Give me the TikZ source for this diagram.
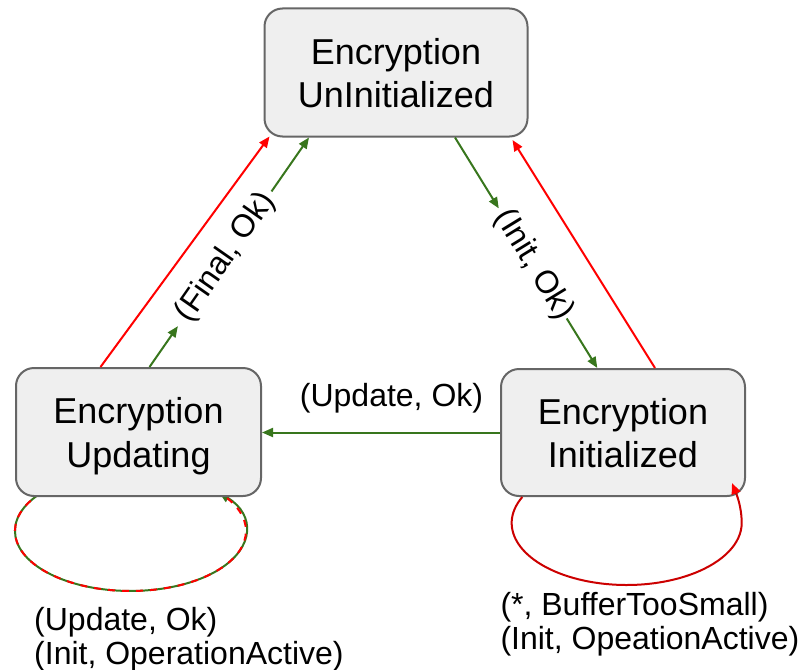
\documentclass[tikz,border=0pt]{standalone}
\usepackage{fontspec}
\setmainfont{Liberation Sans}
\usetikzlibrary{arrows.meta,calc,backgrounds}
\definecolor{boxfill}{HTML}{EFEFEF}
\definecolor{boxline}{HTML}{666666}
\definecolor{okgreen}{HTML}{38761D}
\definecolor{errred}{HTML}{FF0000}
\definecolor{loopred}{HTML}{CC0000}
% fixed line boxes so that every state's text sits alike
\newcommand\boxstrut{\rule[-7.9pt]{0pt}{42.9pt}}
\newcommand\lblstrut{\rule[-7pt]{0pt}{33pt}}

\begin{document}
\begin{tikzpicture}[x=1pt,y=-1pt,
  statebox/.style={draw=boxline, line width=2pt, fill=boxfill, rounded corners=18pt,
    align=center, inner sep=0pt, font=\fontsize{36}{43.5}\selectfont},
  lbl/.style={font=\fontsize{32}{34.3}\selectfont, inner sep=0pt},
  headtip/.style={-{Triangle[length=11pt,width=9pt]}},
  okarrow/.style={okgreen, line width=2pt, headtip},
  errarrow/.style={errred, line width=2pt, headtip},
]
\useasboundingbox (0,0) rectangle (800,669);

% states
\node[statebox, minimum width=263pt, minimum height=128pt] (uninit) at (396,72.5)
  {\boxstrut Encryption\\\boxstrut UnInitialized};
\node[statebox, minimum width=245pt, minimum height=128pt] (upd) at (138.5,432)
  {\boxstrut Encryption\\\boxstrut Updating};
\node[statebox, minimum width=244pt, minimum height=127pt] (ini) at (623,432.5)
  {\boxstrut Encryption\\\boxstrut Initialized};

% Updating -> UnInitialized (error)
\draw[errarrow] ($(upd.north)+(-38,0)$) -- ($(uninit.south west)+(6,-1)$);

% Updating -> UnInitialized (Final, Ok)
\coordinate (fa) at ($(upd.north)+(11,0)$);
\coordinate (fb) at ($(uninit.south west)+(45.5,0)$);
\draw[okarrow] (fa) -- ($(fa)!0.178!(fb)$);
\draw[okarrow] ($(fa)!0.765!(fb)$) -- (fb);
\node[lbl, rotate=55.1] (finallbl) at ($(fa)!0.479!(fb)$) {(Final, Ok)};

% UnInitialized -> Initialized (Init, Ok)
\coordinate (ia) at ($(uninit.south)+(59,0)$);
\coordinate (ib) at ($(ini.north)+(-25.7,0)$);
\draw[okarrow] (ia) -- ($(ia)!0.3075!(ib)$);
\draw[okarrow] ($(ia)!0.785!(ib)$) -- (ib);
\node[lbl, rotate=-58.5] (initlbl) at ($(ia)!0.553!(ib)$) {(Init, Ok)};

% Initialized -> UnInitialized (error)
\draw[errarrow] ($(ini.north)+(32,0)$) -- ($(uninit.south east)+(-16,2.5)$);

% Initialized -> Updating (Update, Ok)
\draw[okarrow] (ini.west) -- (ini.west -| upd.east);
\node[lbl, anchor=base] (updlbl) at (391.5,406.7) {(Update, Ok)};

% self loop on Updating, drawn under the box
\begin{scope}[on background layer]
  \draw[okgreen, line width=2pt, headtip] ($(upd.south west)+(27,-4.6)$)
    arc[start angle=140, end angle=400, x radius=115.5pt, y radius=60pt];
  \draw[errred, line width=2pt, dash pattern=on 7pt off 7pt] ($(upd.south west)+(27,-4.6)$)
    arc[start angle=140, end angle=400, x radius=115.5pt, y radius=60pt];
\end{scope}
\node[lbl, anchor=north west, align=left] (updloop) at (34,604)
  {\lblstrut(Update, Ok)\\\lblstrut(Init, OperationActive)};

% self loop on Initialized
\draw[loopred, line width=2pt, -{Triangle[length=11pt,width=9pt,color=errred]}]
  ($(ini.south west)+(22.3,0)$)
  arc[start angle=155.2, end angle=360, x radius=115pt, y radius=62pt]
  .. controls +(0,-17) and +(4,10) .. ($(ini.south east)+(-14,-14)$);
\node[lbl, anchor=north west, align=left] (iniloop) at (500.3,589)
  {\lblstrut(*, BufferTooSmall)\\\lblstrut(Init, OpeationActive)};
\end{tikzpicture}
\end{document}
